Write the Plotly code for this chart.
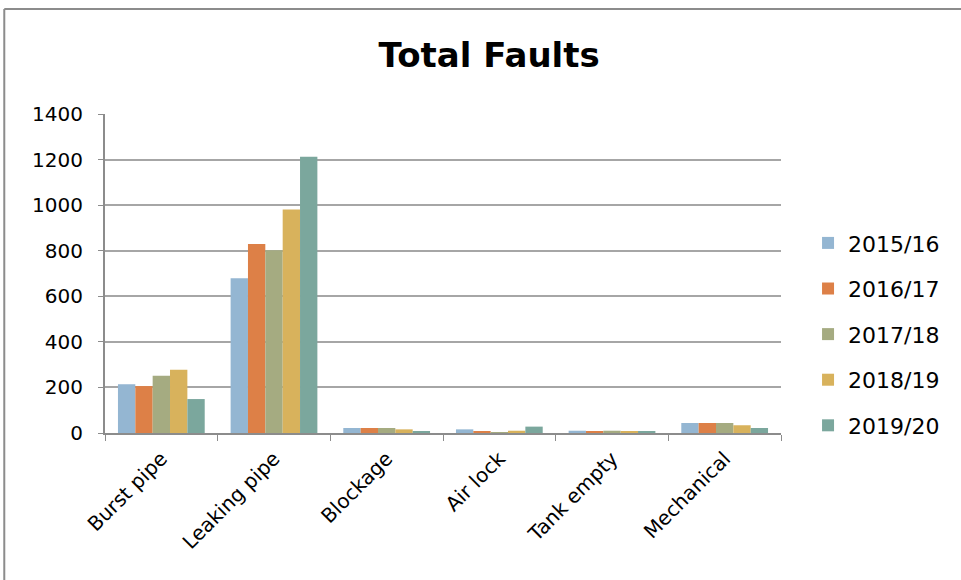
import plotly.graph_objects as go

# Fault categories and yearly counts
categories = ["Burst pipe", "Leaking pipe", "Blockage", "Air lock", "Tank empty", "Mechanical"]
years = ["2015/16", "2016/17", "2017/18", "2018/19", "2019/20"]
counts_2015 = [214, 679, 22, 16, 10, 44]
counts_2016 = [206, 829, 22, 6, 5, 44]
counts_2017 = [251, 802, 22, 4, 10, 44]
counts_2018 = [278, 981, 16, 10, 5, 34]
counts_2019 = [149, 1212, 6, 28, 5, 22]
y_ticks = [0, 200, 400, 600, 800, 1000, 1200, 1400]

series = [counts_2015, counts_2016, counts_2017, counts_2018, counts_2019]
colors = ["#94B6D2", "#DD8047", "#A5AB81", "#D8B25C", "#7BA79D"]

FONT = "Century Gothic, DejaVu Sans, sans-serif"

fig = go.Figure()
for name, vals, col in zip(years, series, colors):
    fig.add_trace(go.Bar(
        x=categories, y=vals, name=name, legendgroup=name,
        marker=dict(color=col, line=dict(width=0)),
    ))

fig.update_layout(
    width=961, height=580,
    margin=dict(l=105, r=180, t=114, b=147),
    paper_bgcolor="white", plot_bgcolor="white",
    barmode="group", bargap=0.23, bargroupgap=0,
    font=dict(family=FONT, color="black"),
    title=dict(text="<b>Total Faults</b>", x=0.509, xref="container", xanchor="center",
               y=0.905, yref="container", yanchor="middle",
               font=dict(size=34, family=FONT, color="black")),
    legend=dict(x=1.04, xanchor="left", y=0.31, yanchor="middle",
                font=dict(size=22, family=FONT), tracegroupgap=14,
                itemwidth=30, bgcolor="rgba(0,0,0,0)"),
    showlegend=True,
)
fig.update_xaxes(
    type="category", showline=True, linecolor="#8c8c8c", linewidth=2,
    ticks="outside", tickson="boundaries", ticklen=6, tickcolor="#8c8c8c",
    tickangle=-45, tickfont=dict(size=20, family=FONT), showgrid=False,
    ticklabelstandoff=4,
)
fig.update_yaxes(
    range=[0, 1400], tickvals=y_ticks, showline=True, linecolor="#8c8c8c",
    linewidth=2, ticks="outside", ticklen=5, tickcolor="#8c8c8c",
    showgrid=True, gridcolor="#a6a6a6", gridwidth=1.5,
    tickfont=dict(size=20, family=FONT), zeroline=False,
    ticklabelstandoff=11,
)

# Chart frame
fig.add_shape(type="line", xref="paper", yref="paper",
              x0=-0.149, x1=1.4, y0=1.329, y1=1.329,
              line=dict(color="#8c8c8c", width=2))
fig.add_shape(type="line", xref="paper", yref="paper",
              x0=-0.149, x1=-0.149, y0=-0.5, y1=1.329,
              line=dict(color="#8c8c8c", width=2))

fig.write_html("out.html")
